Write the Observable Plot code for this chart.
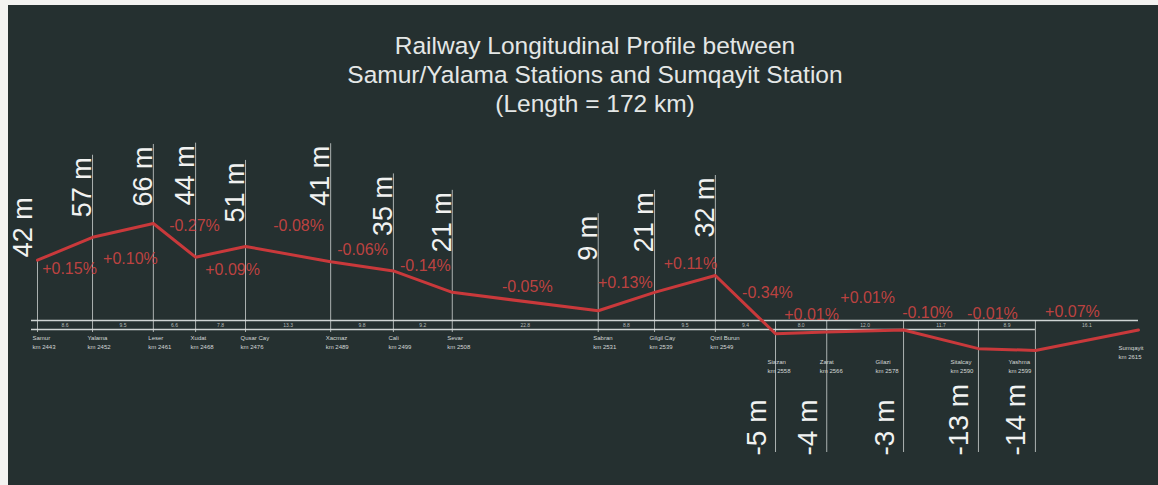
<!DOCTYPE html>
<html>
<head>
<meta charset="utf-8">
<script src="https://cdn.jsdelivr.net/npm/d3@7"></script>
<script src="https://cdn.jsdelivr.net/npm/@observablehq/plot@0.6"></script>
<style>
  html, body { margin: 0; padding: 0; background: #f3f3f1; }
  #frame { position: absolute; left: 8px; top: 5px; width: 1150px; height: 480px; background: #253030; overflow: hidden; }
  #title { height: 120px; box-sizing: border-box; padding-top: 26px; padding-left: 24px; text-align: center;
           font-family: "Liberation Sans", Arial, sans-serif; font-size: 24.5px; line-height: 29px; color: #e4e7e6; }
  #chart svg { display: block; }
</style>
</head>
<body>
<div id="frame">
  <div id="title">
    <div>Railway Longitudinal Profile between</div>
    <div>Samur/Yalama Stations and Sumqayit Station</div>
    <div>(Length = 172 km)</div>
  </div>
  <div id="chart"></div>
</div>
<script>
// ---------------- data ----------------
const stationNames = ["Samur", "Yalama", "Leser", "Xudat", "Qusar Cay", "Xacmaz", "Cali", "Sevar", "Sabran",
  "Gilgil Cay", "Qizil Burun", "Siazan", "Zarat", "Gilazi", "Sitalcay", "Yashma", "Sumqayit"];
const stationKm = [2443, 2451.6, 2461.1, 2467.7, 2475.5, 2488.8, 2498.6, 2507.8, 2530.6,
  2539.4, 2548.9, 2558.3, 2566.3, 2578.3, 2590.0, 2598.9, 2615];
const elevation = [42, 57, 66, 44, 51, 41, 35, 21, 9, 21, 32, -5, -4, -3, -13, -14, -3];
const elevationLabels = ["42 m", "57 m", "66 m", "44 m", "51 m", "41 m", "35 m", "21 m", "9 m", "21 m", "32 m",
  "-5 m", "-4 m", "-3 m", "-13 m", "-14 m", ""];
const gradientLabels = ["+0.15%", "+0.10%", "-0.27%", "+0.09%", "-0.08%", "-0.06%", "-0.14%", "-0.05%",
  "+0.13%", "+0.11%", "-0.34%", "+0.01%", "+0.01%", "-0.10%", "-0.01%", "+0.07%"];

// ---------------- label layout (pixel nudges) ----------------
const elevLabelLift = [3, 20, 17, 52, 24, 56, 35, 40, 50, 40, 38];
const gradientNudge = [[4.5, 20], [7.5, 28], [20, -14], [12, 18], [10.5, -28], [0.5, -16], [2.5, -16], [2, -15],
  [-1, -19], [5.5, -20.5], [22, -11], [10.5, -17.5], [2.5, -33.5], [-13.5, -26], [-14.5, -36], [-14.5, -28]];
const nameNudgeX = [-5, -5, -5, -5, -5, -5, -5, -5, -5, -5, -5, -8, -7, -28, -28, -27, -20];

const stations = stationNames.map((name, i) => ({
  name, km: stationKm[i], elev: elevation[i], label: elevationLabels[i], kmText: `km ${Math.round(stationKm[i])}`
}));
const segments = gradientLabels.map((g, i) => ({
  text: g,
  km: (stationKm[i] + stationKm[i + 1]) / 2,
  elev: (elevation[i] + elevation[i + 1]) / 2,
  dist: (stationKm[i + 1] - stationKm[i]).toFixed(1)
}));

const W = 1150, H = 360;
// schematic drawing: depths below zero are drawn with a slightly larger vertical exaggeration
const belowStretch = 1.2136;
const yTransform = (e) => (e >= 0 ? e : e * belowStretch);
const yUntransform = (v) => (v >= 0 ? v : v / belowStretch);
const yDomain = [-14 * belowStretch, 66];
const yRange = [225, 98];
const yLin = d3.scaleLinear().domain(yDomain).range(yRange);
const yPx = (e) => yLin(yTransform(e));
const yFromPx = (px) => yUntransform(yLin.invert(px));

const ctx = document.createElement("canvas").getContext("2d");
const bigFont = 27;
ctx.font = `${bigFont}px "Liberation Sans"`;
const measure = (t) => ctx.measureText(t).width;

const ruleStyle = {stroke: "#d9dddc", strokeOpacity: 0.75, strokeWidth: 1};
const white = "#f1f2f1";
const red = "#d04543";
const marks = [];

// double baseline stripe
marks.push(Plot.ruleY([0], {x1: stationKm[0], x2: stationKm[16], dy: -4, insetLeft: -6, stroke: "#cfd4d3", strokeWidth: 1.3}));
marks.push(Plot.ruleY([0], {x1: stationKm[0], x2: stationKm[15], dy: 5, insetLeft: -6, stroke: "#cfd4d3", strokeWidth: 1.3}));
// distance labels on stripe
marks.push(Plot.text(segments, {x: "km", y: () => 0, text: "dist", fontSize: 5, fill: "#b9bebd", dy: 1}));

stations.forEach((s, i) => {
  if (!s.label) return;
  if (s.elev >= 0) {
    const lift = elevLabelLift[i];
    const ext = i === 0 ? 0 : lift + measure(s.label) + 2;
    const topVal = yFromPx(yPx(s.elev) - ext);
    const botVal = yFromPx(yPx(0) + 8);
    marks.push(Plot.ruleX([s], {x: "km", y1: () => topVal, y2: () => botVal, ...ruleStyle}));
  } else {
    const topVal = yFromPx(yPx(0) - 4);
    const botVal = yFromPx(H - 33);
    marks.push(Plot.ruleX([s], {x: "km", y1: () => topVal, y2: () => botVal, ...ruleStyle}));
  }
});

// profile line
marks.push(Plot.line(stations, {x: "km", y: "elev", stroke: "#c9393b", strokeWidth: 3, strokeLinejoin: "round"}));

// elevation labels
stations.forEach((s, i) => {
  if (!s.label) return;
  if (s.elev >= 0) {
    marks.push(Plot.text([s], {x: "km", y: "elev", text: "label", rotate: -90, textAnchor: "start",
      dx: i === 0 ? -14.5 : -10, dy: -elevLabelLift[i], fontSize: bigFont, fill: white}));
  } else {
    marks.push(Plot.text([s], {x: "km", frameAnchor: "bottom", text: "label", rotate: -90, textAnchor: "start",
      dx: -10, dy: -30, fontSize: bigFont + 1, fill: white}));
  }
});

// gradient labels
segments.forEach((g, i) => {
  marks.push(Plot.text([g], {x: "km", y: "elev", text: "text", dx: gradientNudge[i][0], dy: gradientNudge[i][1],
    fontSize: 16, fill: red, fillOpacity: 0.9}));
});

// station names + km
stations.forEach((s, i) => {
  const last = i === stations.length - 1;
  const dy = last ? 24 : (s.elev >= 0 ? 14 : 38);
  marks.push(Plot.text([s], {x: "km", y: () => 0, text: "name", textAnchor: "start", dx: nameNudgeX[i], dy, fontSize: 6, fill: "#d3d7d6"}));
  marks.push(Plot.text([s], {x: "km", y: () => 0, text: "kmText", textAnchor: "start", dx: nameNudgeX[i], dy: dy + 9, fontSize: 6, fill: "#d3d7d6"}));
});

const chart = Plot.plot({
  width: W, height: H, margin: 0,
  x: {domain: [2438.47, 2618.13], axis: null},
  y: {transform: yTransform, domain: yDomain, range: yRange, axis: null},
  style: {background: "transparent", fontFamily: "'Liberation Sans', Arial, sans-serif", overflow: "visible"},
  marks
});
document.getElementById("chart").appendChild(chart);
</script>
</body>
</html>
